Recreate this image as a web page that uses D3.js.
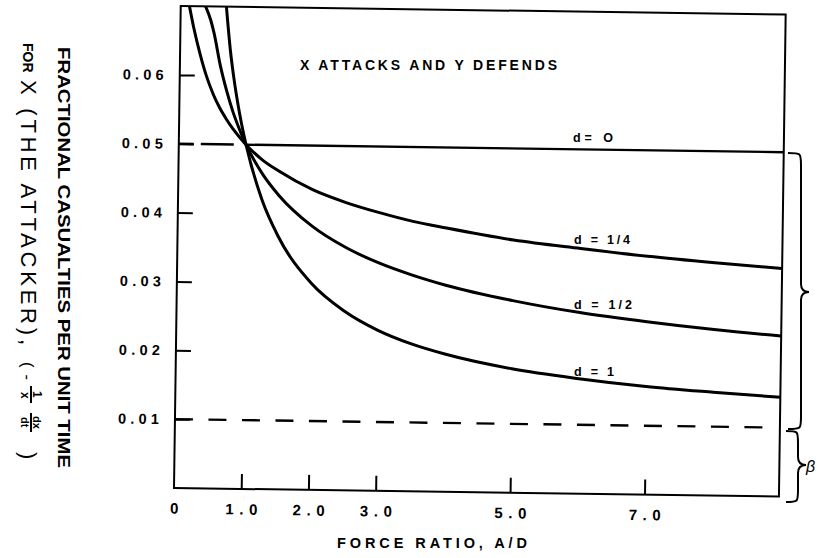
<!DOCTYPE html>
<html><head><meta charset="utf-8">
<script src="https://cdn.jsdelivr.net/npm/d3@7"></script>
<style>body{margin:0;background:#fff}svg{display:block}</style>
</head><body>
<svg id="chart" width="818" height="558"></svg>
<script>
// ---- data ----
const xTickValues = [0, 1, 2, 3, 5, 7];
const xTickLabels = ["0", "1.0", "2.0", "3.0", "5.0", "7.0"];
const yTickValues = [0.01, 0.02, 0.03, 0.04, 0.05, 0.06];
const yTickLabels = ["0.01", "0.02", "0.03", "0.04", "0.05", "0.06"];

const ratioZero = [1, 9];
const casZero = [0.05, 0.05];
const ratioZeroLow = [0, 1];
const casZeroLow = [0.05, 0.05];

const ratioQuarter = [0.13, 0.2, 0.3, 0.4, 0.5, 0.6, 0.7, 0.8, 0.9, 1.0, 1.25, 1.5, 2, 2.5, 3, 3.5, 4, 5, 6, 7, 8, 9];
const casQuarter = [0.0700, 0.0668, 0.0630, 0.0598, 0.0573, 0.0553, 0.0537, 0.0523, 0.0511, 0.0500, 0.0478, 0.0462, 0.0436, 0.0418, 0.0404, 0.0392, 0.0383, 0.0367, 0.0356, 0.0346, 0.0338, 0.0331];

const ratioHalf = [0.37, 0.45, 0.5, 0.6, 0.7, 0.8, 0.9, 1.0, 1.25, 1.5, 2, 2.5, 3, 3.5, 4, 5, 6, 7, 8, 9];
const casHalf = [0.0700, 0.0680, 0.0662, 0.0615, 0.0578, 0.0547, 0.0522, 0.0500, 0.0458, 0.0427, 0.0383, 0.0353, 0.0331, 0.0314, 0.0300, 0.0279, 0.0263, 0.0251, 0.0241, 0.0233];

const ratioOne = [0.68, 0.75, 0.8, 0.9, 1.0, 1.25, 1.5, 2, 2.5, 3, 3.5, 4, 5, 6, 7, 8, 9];
const casOne = [0.0700, 0.0635, 0.0600, 0.0544, 0.0500, 0.0420, 0.0367, 0.0300, 0.0260, 0.0233, 0.0214, 0.0200, 0.0180, 0.0167, 0.0157, 0.0150, 0.0144];

const ratioBeta = [0, 8.8];
const casBeta = [0.01, 0.01];

const curveLabels = ["d= O", "d = 1/4", "d = 1/2", "d = 1"];

// ---- drawing ----
const FONT = "'Liberation Sans', Arial, sans-serif";
const svg = d3.select("#chart");
svg.append("rect").attr("width", 818).attr("height", 558).attr("fill", "#fff");

const W = 605, H = 482;
const x = d3.scaleLinear().domain([0, 9]).range([0, W]);
const y = d3.scaleLinear().domain([0, 0.07]).range([0, -H]);

// the scanned figure is slightly rotated
const g = svg.append("g").attr("transform", "translate(174,488) rotate(0.8)");

g.append("clipPath").attr("id", "plotClip")
  .append("rect").attr("x", 0).attr("y", -H).attr("width", W).attr("height", H);

const zip = (xs, ys) => xs.map((v, i) => [v, ys[i]]);
const line = d3.line().x(d => x(d[0])).y(d => y(d[1])).curve(d3.curveMonotoneX);
const plot = g.append("g").attr("clip-path", "url(#plotClip)");

plot.append("path").datum(zip(ratioBeta, casBeta)).attr("d", line)
  .attr("fill", "none").attr("stroke", "#000").attr("stroke-width", 2.4)
  .attr("stroke-dasharray", "18 15.5");
plot.append("path").datum(zip(ratioZeroLow, casZeroLow)).attr("d", line)
  .attr("fill", "none").attr("stroke", "#000").attr("stroke-width", 2.4)
  .attr("stroke-dasharray", "15 7 33 20");
plot.append("path").datum(zip(ratioZero, casZero)).attr("d", line)
  .attr("fill", "none").attr("stroke", "#000").attr("stroke-width", 2.4);

[[ratioQuarter, casQuarter], [ratioHalf, casHalf], [ratioOne, casOne]].forEach(([xs, ys]) => {
  plot.append("path").datum(zip(xs, ys)).attr("d", line)
    .attr("fill", "none").attr("stroke", "#000").attr("stroke-width", 3)
    .attr("stroke-linejoin", "round");
});

// axes (ticks inward)
const xAxis = d3.axisBottom(x).tickValues(xTickValues)
  .tickFormat((d, i) => xTickLabels[i]).tickSize(-15).tickPadding(15);
const gx = g.append("g").call(xAxis);
gx.select(".domain").remove();
gx.selectAll(".tick line").attr("stroke", "#000").attr("stroke-width", 2)
  .attr("display", d => d === 0 ? "none" : null);
gx.selectAll(".tick text").attr("font-family", FONT).attr("font-weight", "bold")
  .attr("font-size", 15).attr("fill", "#000")
  .each(function(d, i) {
    if (xTickLabels[i].length > 1) d3.select(this).attr("textLength", 32).attr("lengthAdjust", "spacing");
  });

const yAxis = d3.axisLeft(y).tickValues(yTickValues)
  .tickFormat((d, i) => yTickLabels[i]).tickSize(-15).tickPadding(16);
const gy = g.append("g").call(yAxis);
gy.select(".domain").remove();
gy.selectAll(".tick line").attr("stroke", "#000").attr("stroke-width", 2);
gy.selectAll(".tick text").attr("font-family", FONT).attr("font-weight", "bold")
  .attr("font-size", 14.5).attr("fill", "#000")
  .attr("textLength", 41).attr("lengthAdjust", "spacing");

// frame
g.append("rect").attr("x", 0).attr("y", -H).attr("width", W).attr("height", H)
  .attr("fill", "none").attr("stroke", "#000").attr("stroke-width", 2);

// ---- annotations (screen coordinates) ----
function txt(t, sx, sy, size, len, opts = {}) {
  const e = svg.append("text").attr("x", sx).attr("y", sy).text(t)
    .attr("font-family", FONT).attr("font-size", size)
    .attr("font-weight", opts.weight || "bold").attr("fill", "#000");
  if (len) e.attr("textLength", len).attr("lengthAdjust", "spacing");
  if (opts.italic) e.attr("font-style", "italic");
  return e;
}

txt("X  ATTACKS AND  Y DEFENDS", 300, 70, 14, 257);
txt(curveLabels[0], 573, 142, 12.5, 40);
txt(curveLabels[1], 574, 244, 12.5, 56);
txt(curveLabels[2], 574, 309, 12.5, 58);
txt(curveLabels[3], 574, 376, 12.5, 40);
txt("FORCE  RATIO,  A/D", 337, 548, 14.5, 190);

// rotated y title
function vtxt(t, sx, sy, size, len, weight, adjust) {
  const e = svg.append("text").attr("transform", `translate(${sx},${sy}) rotate(90)`)
    .text(t).attr("font-family", FONT).attr("font-size", size)
    .attr("font-weight", weight).attr("fill", "#000");
  if (len) e.attr("textLength", len).attr("lengthAdjust", adjust || "spacing");
  return e;
}
vtxt("FRACTIONAL  CASUALTIES  PER  UNIT  TIME", 58, 47, 17, 421, "bold", "spacingAndGlyphs");
vtxt("FOR", 23, 43, 14, null, "bold");
vtxt("X (THE ATTACKER),", 21, 80, 22, 265, "normal");
vtxt("(-", 22, 362, 16.5, 18, "normal");
vtxt("1", 33, 391, 12, null, "bold");
vtxt("x", 21, 392, 12, null, "bold");
vtxt("dx", 33, 416, 11, null, "bold");
vtxt("dt", 21, 417, 11, null, "bold");
vtxt(")", 21, 452, 22, null, "normal");
svg.append("line").attr("x1", 31).attr("x2", 31).attr("y1", 386).attr("y2", 403)
  .attr("stroke", "#000").attr("stroke-width", 2);
svg.append("line").attr("x1", 31).attr("x2", 31).attr("y1", 413).attr("y2", 432)
  .attr("stroke", "#000").attr("stroke-width", 2);

// braces
function brace(x0, yT, yB, xm, tipX, yMid) {
  return `M${x0},${yT} C${xm},${yT} ${xm},${yT} ${xm},${yT + 12} L${xm},${yMid - 8} Q${xm},${yMid} ${tipX},${yMid} ` +
         `Q${xm},${yMid} ${xm},${yMid + 8} L${xm},${yB - 12} C${xm},${yB} ${xm},${yB} ${x0},${yB}`;
}
svg.append("path").attr("d", brace(788, 153, 429, 801, 809, 292))
  .attr("fill", "none").attr("stroke", "#000").attr("stroke-width", 2);
svg.append("path").attr("d", brace(786, 431, 502, 798, 806, 465))
  .attr("fill", "none").attr("stroke", "#000").attr("stroke-width", 2);
txt("β", 806, 472, 16, null, { weight: "normal", italic: true });
</script>
</body></html>
